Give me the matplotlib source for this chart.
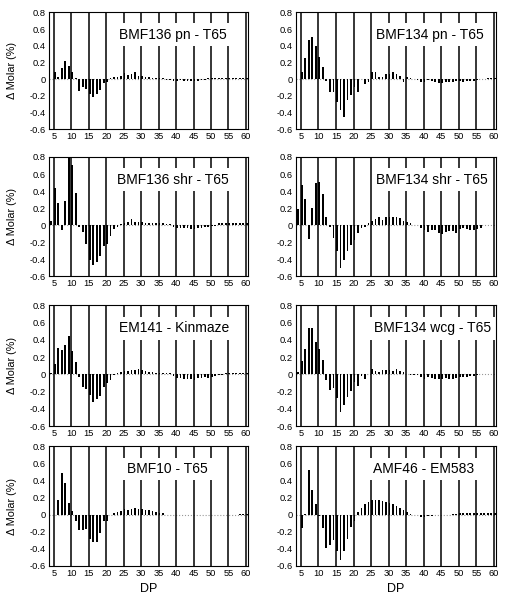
import matplotlib
matplotlib.use("Agg")
import matplotlib.pyplot as plt

plt.rcParams['font.family'] = ['Liberation Sans', 'DejaVu Sans']

dp = list(range(4, 61))

bmf136_pn = [0.0, 0.08, 0.02, 0.13, 0.22, 0.16, 0.09, 0.01, -0.14, -0.10,
             -0.12, -0.18, -0.21, -0.18, -0.13, -0.05, -0.03, 0.01, 0.02, 0.03,
             0.04, 0.07, 0.05, 0.06, 0.08, 0.04, 0.04, 0.02, 0.02, 0.015,
             0.015, 0.015, 0.01, -0.01, -0.01, -0.02, -0.02, -0.015, -0.02, -0.02,
             -0.02, -0.02, -0.02, -0.015, -0.01, 0.015, 0.015, 0.015, 0.015, 0.015,
             0.015, 0.015, 0.015, 0.015, 0.015, 0.015, 0.015]
bmf134_pn = [0.0, 0.08, 0.25, 0.47, 0.50, 0.40, 0.27, 0.15, -0.02, -0.16,
             -0.15, -0.27, -0.37, -0.46, -0.25, -0.19, -0.09, -0.15, 0.0, -0.06,
             -0.03, 0.08, 0.08, 0.03, 0.02, 0.06, 0.06, 0.08, 0.06, 0.04,
             -0.03, 0.02, 0.01, 0.0, -0.01, -0.04, -0.03, -0.01, -0.02, -0.03,
             -0.05, -0.05, -0.03, -0.03, -0.03, -0.02, -0.02, -0.03, -0.02, -0.02,
             -0.02, -0.01, 0.0, 0.0, 0.01, 0.01, 0.01]
bmf136_shr = [0.05, 0.43, 0.26, -0.06, 0.28, 0.82, 0.71, 0.38, -0.02, -0.08,
              -0.22, -0.41, -0.47, -0.43, -0.37, -0.25, -0.22, -0.13, -0.05, -0.02,
              0.01, 0.02, 0.03, 0.07, 0.04, 0.03, 0.04, 0.02, 0.02, 0.02,
              0.02, 0.02, 0.02, 0.015, 0.015, -0.02, -0.03, -0.04, -0.03, -0.03,
              -0.05, -0.05, -0.04, -0.03, -0.02, -0.02, -0.01, -0.01, 0.02, 0.02,
              0.02, 0.02, 0.02, 0.02, 0.02, 0.02, 0.02]
bmf134_shr = [0.19, 0.47, 0.31, -0.16, 0.20, 0.49, 0.51, 0.37, 0.09, -0.02,
              -0.15, -0.31, -0.50, -0.41, -0.30, -0.24, -0.18, -0.09, -0.03, -0.02,
              0.02, 0.05, 0.07, 0.09, 0.06, 0.09, 0.10, 0.10, 0.10, 0.08,
              0.05, 0.03, 0.02, 0.0, 0.0, -0.04, -0.06, -0.08, -0.06, -0.06,
              -0.09, -0.11, -0.08, -0.07, -0.07, -0.09, -0.05, -0.03, -0.05, -0.06,
              -0.06, -0.05, -0.03, 0.0, 0.0, 0.0, 0.0]
em141 = [0.02, 0.12, 0.31, 0.28, 0.34, 0.44, 0.27, 0.14, -0.03, -0.15,
         -0.17, -0.24, -0.32, -0.29, -0.25, -0.15, -0.10, -0.07, -0.01, 0.02,
         0.03, 0.04, 0.04, 0.05, 0.05, 0.06, 0.05, 0.04, 0.03, 0.03,
         0.02, 0.02, 0.02, 0.02, 0.015, -0.02, -0.04, -0.04, -0.05, -0.05,
         -0.05, -0.06, -0.04, -0.04, -0.03, -0.04, -0.03, -0.02, -0.01, -0.01,
         0.02, 0.02, 0.02, 0.02, 0.02, 0.02, 0.02]
bmf134_wcg = [0.03, 0.15, 0.30, 0.54, 0.54, 0.38, 0.29, 0.17, -0.06, -0.18,
              -0.16, -0.28, -0.44, -0.36, -0.26, -0.19, -0.09, -0.14, -0.02, -0.05,
              0.0, 0.06, 0.04, 0.03, 0.05, 0.05, 0.05, 0.04, 0.06, 0.04,
              0.03, 0.0, -0.01, -0.01, -0.01, -0.03, -0.05, -0.03, -0.04, -0.05,
              -0.05, -0.05, -0.04, -0.05, -0.05, -0.04, -0.03, -0.03, -0.03, -0.02,
              -0.02, -0.01, 0.0, 0.0, 0.0, 0.0, 0.0]
bmf10 = [0.0, 0.0, 0.17, 0.49, 0.37, 0.14, 0.04, -0.07, -0.18, -0.18,
         -0.17, -0.29, -0.32, -0.32, -0.22, -0.08, -0.08, 0.0, 0.02, 0.03,
         0.04, 0.06, 0.05, 0.07, 0.08, 0.06, 0.07, 0.05, 0.05, 0.04,
         0.03, 0.02, 0.02, 0.0, 0.0, -0.01, -0.01, -0.01, -0.01, -0.01,
         -0.01, -0.01, -0.01, -0.01, 0.0, 0.0, 0.0, 0.0, 0.0, 0.0,
         0.0, -0.01, 0.0, 0.0, 0.01, 0.01, 0.01]
amf46 = [0.0, -0.16, 0.01, 0.52, 0.29, 0.12, -0.02, -0.16, -0.39, -0.35,
         -0.30, -0.42, -0.53, -0.43, -0.29, -0.15, -0.07, 0.03, 0.08, 0.12,
         0.15, 0.17, 0.17, 0.17, 0.16, 0.15, 0.14, 0.12, 0.10, 0.08,
         0.05, 0.03, 0.01, 0.0, -0.01, -0.03, -0.03, -0.02, -0.02, -0.01,
         -0.01, -0.01, 0.0, 0.0, 0.01, 0.01, 0.02, 0.02, 0.02, 0.02,
         0.02, 0.02, 0.02, 0.02, 0.02, 0.02, 0.02]

series = [bmf136_pn, bmf134_pn, bmf136_shr, bmf134_shr,
          em141, bmf134_wcg, bmf10, amf46]
titles = ["BMF136 pn - T65", "BMF134 pn - T65", "BMF136 shr - T65",
          "BMF134 shr - T65", "EM141 - Kinmaze", "BMF134 wcg - T65",
          "BMF10 - T65", "AMF46 - EM583"]
title_x = [0.35, 0.40, 0.34, 0.40, 0.35, 0.39, 0.39, 0.385]

yticks = [0.8, 0.6, 0.4, 0.2, 0, -0.2, -0.4, -0.6]
ytick_labels = ["0.8", "0.6", "0.4", "0.2", "0", "-0.2", "-0.4", "-0.6"]
xticks = list(range(5, 61, 5))

fig = plt.figure(figsize=(5.11, 5.99), dpi=100)

col_left = [0.0959, 0.5793]
col_width = [0.3894, 0.3914]
row_bottom = [0.7846, 0.5392, 0.2888, 0.0551]
row_height = [0.1948, 0.1987, 0.2012, 0.2003]

for i, (vals, title) in enumerate(zip(series, titles)):
    r, c = divmod(i, 2)
    ax = fig.add_axes([col_left[c], row_bottom[r], col_width[c], row_height[r]])
    ax.axhline(0, color='0.6', lw=0.8, ls=':', zorder=1)
    ax.bar(dp, vals, width=0.5, align='edge', color='black', zorder=2)
    for x in xticks:
        ax.axvline(x, color='black', lw=1.1, zorder=3)
    ax.set_xlim(3.6, 60.6)
    ax.set_ylim(-0.6, 0.8)
    ax.set_yticks(yticks)
    ax.set_yticklabels(ytick_labels)
    ax.set_xticks(xticks)
    ax.tick_params(axis='both', length=0, labelsize=6.7, pad=2.5)
    for s in ax.spines.values():
        s.set_linewidth(0.8)
    ax.text(title_x[i], 0.81, title, transform=ax.transAxes,
            ha='left', va='center', fontsize=10, zorder=5,
            bbox=dict(facecolor='white', edgecolor='none', pad=3))
    if c == 0:
        ax.set_ylabel("Δ Molar (%)", fontsize=7.8)
        ax.yaxis.set_label_coords(-0.16, 0.5)
    if r == 3:
        ax.set_xlabel("DP", fontsize=9, labelpad=3)

fig.savefig("out.png", dpi=100)
